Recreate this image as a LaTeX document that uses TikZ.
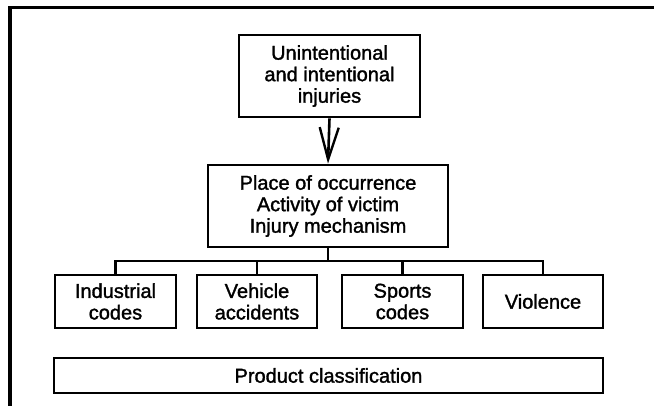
\documentclass[tikz,border=0pt]{standalone}
\usepackage{fontspec}
\setmainfont{Liberation Sans}
\newfontfamily\diafont[FakeBold=1.5]{Liberation Sans}
\usetikzlibrary{arrows.meta}
\begin{document}
\begin{tikzpicture}[x=1pt,y=-1pt,
  box/.style={draw,line width=2.8pt,align=center,inner sep=0pt,
    font=\diafont\fontsize{20}{21.5}\selectfont},
  conn/.style={line width=2.6pt}]
\useasboundingbox (0,0) rectangle (654,406);
\draw[line width=3.2pt] (10,406) -- (10,7.5) -- (654,7.5);
\node[box,minimum width=181pt,minimum height=82pt] (top) at (329.5,76) {Unintentional\\and intentional\\injuries};
\node[box,minimum width=240pt,minimum height=82pt] (mid) at (328,206) {Place of occurrence\\Activity of victim\\Injury mechanism};
\node[box,minimum width=121pt,minimum height=53pt] (ind) at (115.5,301.5) {Industrial\\codes};
\node[box,minimum width=120pt,minimum height=53pt] (veh) at (257,301.5) {Vehicle\\accidents};
\node[box,minimum width=121pt,minimum height=53pt] (spo) at (402.5,301.5) {Sports\\codes};
\node[box,minimum width=120pt,minimum height=53pt] (vio) at (543,301.5) {Violence};
\node[box,minimum width=549pt,minimum height=35pt] (prod) at (328.5,375.5) {Product classification};
\coordinate (busy) at (0,261);
\draw[conn,-{Straight Barb[length=32pt,width=19pt,line width=2.4pt]}] (top.south) -- (mid.north);
\draw[conn] (mid.south) -- (mid.south |- busy);
\draw[conn] (ind.north) -- (ind.north |- busy) -| (vio.north);
\draw[conn] (veh.north) -- (veh.north |- busy);
\draw[conn] (spo.north) -- (spo.north |- busy);
\end{tikzpicture}
\end{document}
